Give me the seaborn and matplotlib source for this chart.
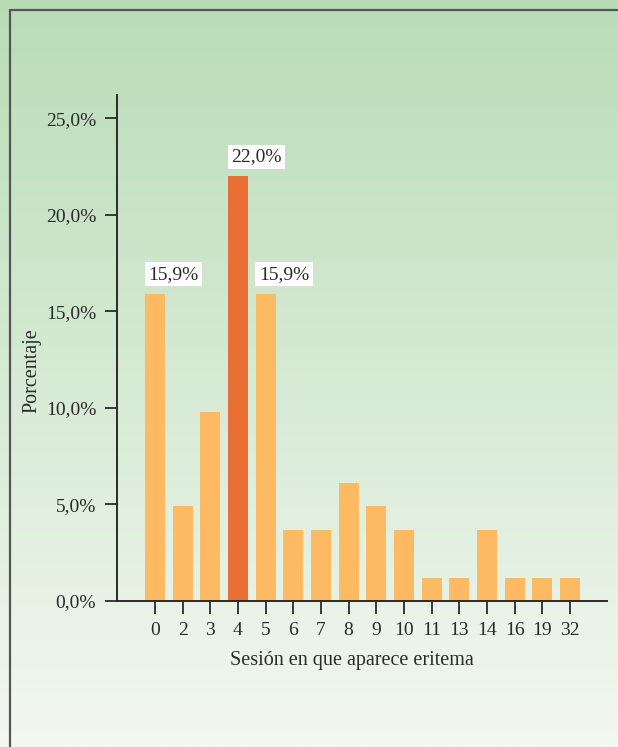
import numpy as np
import pandas as pd
import matplotlib
matplotlib.use("Agg")
import matplotlib.pyplot as plt
from matplotlib.lines import Line2D
import seaborn as sns

# Session in which erythema appears, and share of patients (%)
sesiones = ["0", "2", "3", "4", "5", "6", "7", "8", "9", "10", "11", "13", "14", "16", "19", "32"]
porcentajes = [15.9, 4.9, 9.8, 22.0, 15.9, 3.7, 3.7, 6.1, 4.9, 3.7, 1.2, 1.2, 3.7, 1.2, 1.2, 1.2]
destacadas = ["0", "4", "5"]          # bars carrying a value label
moda = "4"                            # highlighted bar
yticks = [0, 5, 10, 15, 20, 25]

COLOR_BAR = "#FDBA63"
COLOR_MODA = "#E87035"
INK = "#2a2a2a"
FS_TICK = 14
FS_LABEL = 14.5

sns.set_style("white")
plt.rcParams["font.family"] = ["Liberation Serif", "DejaVu Serif"]

fig = plt.figure(figsize=(6.18, 7.47), dpi=100)

# Vertical green-to-white background gradient
bg = fig.add_axes([0, 0, 1, 1], zorder=-10)
top = np.array([185, 220, 183]) / 255
bottom = np.array([243, 248, 241]) / 255
t = np.linspace(0, 1, 256)[:, None]
grad = (top * (1 - t) + bottom * t)[:, None, :]
bg.imshow(grad, aspect="auto", extent=[0, 1, 0, 1], origin="upper")
bg.set_xlim(0, 1)
bg.set_ylim(0, 1)
bg.axis("off")
# Frame lines at left and top
W, H = 618, 747
bg.add_line(Line2D([10 / W, 10 / W], [0, 1 - 10 / H], color="#555555", lw=1.6))
bg.add_line(Line2D([10 / W, 1], [1 - 10 / H, 1 - 10 / H], color="#555555", lw=1.6))

ax = fig.add_axes([117 / W, 1 - 601 / H, 490 / W, 506 / H])
ax.patch.set_alpha(0)

df = pd.DataFrame({"sesion": sesiones, "pct": porcentajes})
palette = {s: (COLOR_MODA if s == moda else COLOR_BAR) for s in sesiones}
sns.barplot(data=df, x="sesion", y="pct", hue="sesion", order=sesiones,
            palette=palette, legend=False, width=0.72, saturation=1,
            linewidth=0, edgecolor="none", ax=ax, zorder=2)

ax.set_xlim(-1.37, len(sesiones) - 1 + 1.34)
ax.set_ylim(0, 26.2)
ax.set_yticks(yticks)
ax.set_yticklabels([f"{v:.1f}%".replace(".", ",") for v in yticks])

for s in ["top", "right"]:
    ax.spines[s].set_visible(False)
for s in ["left", "bottom"]:
    ax.spines[s].set_color(INK)
    ax.spines[s].set_linewidth(1.4)

ax.tick_params(axis="both", direction="out", length=9, width=1.3, color=INK,
               labelsize=FS_TICK, labelcolor=INK, pad=6)
ax.tick_params(axis="x", bottom=True)
ax.tick_params(axis="y", left=True)

ax.set_xlabel("Sesión en que aparece eritema", fontsize=FS_LABEL, color=INK)
ax.set_ylabel("Porcentaje", fontsize=FS_LABEL, color=INK)
ax.xaxis.set_label_coords(0.48, -0.098)
ax.yaxis.set_label_coords(-0.154, 0.456)

for patch, s, v in zip(ax.patches, sesiones, porcentajes):
    if s in destacadas:
        ax.annotate(f"{v:.1f}%".replace(".", ","),
                    xy=(patch.get_x(), v), xytext=(2.4, 8.0),
                    textcoords="offset points", ha="left", va="bottom",
                    fontsize=FS_TICK, color=INK,
                    bbox=dict(boxstyle="square,pad=0.18", fc="white", ec="none"))

fig.savefig("out.png", dpi=100)
